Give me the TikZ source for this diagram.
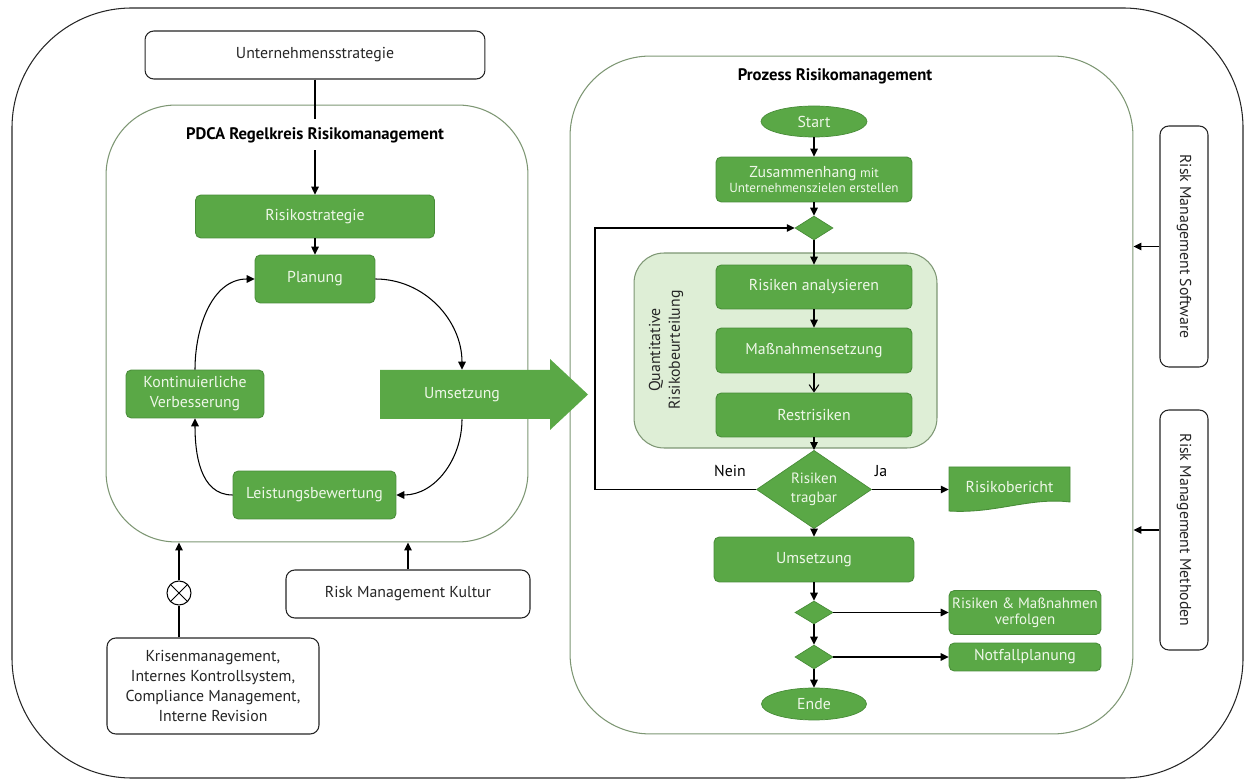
\documentclass[tikz,border=0pt]{standalone}
\usepackage{fontspec}
\setmainfont{PT Sans}
\usepackage{tikz}
\usetikzlibrary{shapes.geometric,arrows.meta}
\definecolor{riskgreen}{RGB}{90,168,70}
\definecolor{riskedge}{RGB}{72,140,56}
\definecolor{risktext}{RGB}{238,247,232}
\definecolor{riskframe}{RGB}{125,150,115}
\definecolor{riskpale}{RGB}{222,238,214}

\begin{document}
\begin{tikzpicture}[x=0.02cm, y=-0.02cm,
  >={Triangle[length=4.5pt,width=4.3pt]},
  font=\fontsize{9pt}{11.3pt}\selectfont,
  line/.style={line width=0.6pt, black},
  greenbox/.style={draw=riskedge, fill=riskgreen, text=risktext, rounded corners=3pt, line width=0.5pt, align=center, inner sep=1pt},
  whitebox/.style={draw=black!85, fill=white, rounded corners=5pt, line width=0.6pt, align=center, text=black!85},
  container/.style={draw=riskframe, line width=0.6pt},
  decision/.style={diamond, draw=riskedge, fill=riskgreen, text=risktext, inner sep=0pt, align=center},
  terminal/.style={ellipse, draw=riskedge, fill=riskgreen, text=risktext, inner sep=0pt}]

\useasboundingbox (0,0) rectangle (1245,780);

% outer frame
\draw[line width=0.6pt, black!85, rounded corners=2.4cm] (12,8) rectangle (1243,778);

% containers
\node[container, rounded corners=1.4cm, minimum width=8.44cm, minimum height=8.74cm] (pdca) at (317,323.5) {};
\node[container, rounded corners=1.6cm, minimum width=11.26cm, minimum height=13.56cm] (prozess) at (851.5,395) {};
\node[container, fill=riskpale, rounded corners=0.6cm, minimum width=6.06cm, minimum height=3.9cm] (quant) at (785.5,350.5) {};

% PDCA nodes
\node[whitebox, minimum width=6.8cm, minimum height=0.96cm] (unt) at (315,55) {Unternehmensstrategie};
\node[greenbox, minimum width=4.78cm, minimum height=0.86cm] (risikostr) at (315,216.5) {Risikostrategie};
\node[greenbox, minimum width=2.4cm, minimum height=0.96cm] (planung) at (315,279) {Planung};
\node[greenbox, minimum width=2.76cm, minimum height=0.96cm] (kont) at (195,394) {Kontinuierliche\\Verbesserung};
\node[greenbox, minimum width=3.26cm, minimum height=0.96cm] (leist) at (314.5,495) {Leistungsbewertung};

% Umsetzung arrow
\fill[riskgreen] (380,370) -- (550,370) -- (550,359) -- (588,394.5) -- (550,430) -- (550,419) -- (380,419) -- cycle;
\node[text=risktext, minimum width=3.24cm, minimum height=0.98cm] (umsetzungA) at (462,394.5) {Umsetzung};

% PDCA arrows
\draw[line,->] (unt.south) -- (unt.south |- risikostr.north);
\node[fill=white, font=\fontsize{9.5pt}{11pt}\selectfont\bfseries, minimum height=0.62cm, inner xsep=1pt] (pdcatitle) at (315,135) {PDCA Regelkreis Risikomanagement};
\draw[line,->] (risikostr) -- (planung);
\draw[line,->] (planung.east) to[out=0, in=90] (umsetzungA.north);
\draw[line,->] (umsetzungA.south) to[out=-90, in=0] (leist.east);
\draw[line,->] (leist.west) to[out=180, in=-90] (kont.south);
\draw[line,->] (kont.north) to[out=90, in=180] (planung.west);

% inputs below
\node[circle, draw, line width=0.6pt, minimum size=0.48cm, inner sep=0pt] (xor) at (179,593) {};
\draw[line] (xor.north east) -- (xor.south west) (xor.north west) -- (xor.south east);
\node[whitebox, minimum width=4.24cm, minimum height=1.92cm] (krisen) at (213,686) {Krisenmanagement,\\Internes Kontrollsystem,\\Compliance Management,\\Interne Revision};
\node[whitebox, minimum width=4.88cm, minimum height=0.96cm] (kultur) at (408,594) {Risk Management Kultur};
\draw[line] (krisen.north -| xor) -- (xor.south);
\draw[line,->] (xor.north) -- (xor.north |- pdca.south);
\draw[line,->] (kultur.north) -- (kultur.north |- pdca.south);

% process nodes
\node[font=\fontsize{9.5pt}{11pt}\selectfont\bfseries] (prozesstitle) at (835,76) {Prozess Risikomanagement};
\node[terminal, minimum width=2.12cm, minimum height=0.62cm] (start) at (814,121.5) {Start};
\node[greenbox, minimum width=3.92cm, minimum height=0.9cm, font=\fontsize{7.5pt}{8.6pt}\selectfont] (zus) at (814,179.5) {{\fontsize{9pt}{9pt}\selectfont Zusammenhang} mit\\Unternehmenszielen erstellen};
\node[decision, minimum width=0.76cm, minimum height=0.48cm] (d1) at (814,228) {};
\node[rotate=90, align=center, text=black!85] (quantlabel) at (666,350) {Quantitative\\Risikobeurteilung};
\node[greenbox, minimum width=3.92cm, minimum height=0.88cm] (ana) at (814,287) {Risiken analysieren};
\node[greenbox, minimum width=3.92cm, minimum height=0.9cm] (mass) at (814,350.5) {Maßnahmensetzung};
\node[greenbox, minimum width=3.92cm, minimum height=0.88cm] (rest) at (814,415) {Restrisiken};
\node[decision, minimum width=2.3cm, minimum height=1.26cm, font=\fontsize{8.5pt}{10.5pt}\selectfont] (dec) at (814,489.5) {Risiken\\tragbar};
\node (nein) at (730,471) {Nein};
\node (ja) at (881,471) {Ja};
\filldraw[fill=riskgreen, draw=riskedge, line width=0.5pt] (949,467) -- (1070,467) -- (1070,502) .. controls (1030,497) and (995,514) .. (949,511) -- cycle;
\node[text=risktext, minimum width=2.42cm, minimum height=0.86cm] (bericht) at (1009.5,487) {Risikobericht};
\node[greenbox, minimum width=4cm, minimum height=0.9cm] (ums) at (814,559.5) {Umsetzung};
\node[decision, minimum width=0.76cm, minimum height=0.46cm] (d2) at (814,612.5) {};
\node[decision, minimum width=0.76cm, minimum height=0.48cm] (d3) at (814,657) {};
\node[greenbox, minimum width=3.04cm, minimum height=0.88cm, font=\fontsize{8.5pt}{9pt}\selectfont] (verf) at (1025,612.5) {Risiken \& Maßnahmen\\verfolgen};
\node[greenbox, minimum width=3.04cm, minimum height=0.56cm] (notf) at (1025,657) {Notfallplanung};
\node[terminal, minimum width=2.1cm, minimum height=0.64cm] (ende) at (814,704) {Ende};

% process arrows
\draw[line,->] (start) -- (zus);
\draw[line,->] (zus) -- (d1);
\draw[line,->] (d1) -- (ana);
\draw[line,->] (ana) -- (mass);
\draw[line,-{Straight Barb[length=4pt,width=5.5pt]}] (mass) -- (rest);
\draw[line,->] (rest) -- (dec);
\coordinate (loopx) at (595,0);
\draw[line,->] (dec.west) -- (dec.west -| loopx) |- (d1.west);
\draw[line,->] (dec.east) -- (dec.east -| bericht.west);
\draw[line,->] (dec) -- (ums);
\draw[line,->] (ums) -- (d2);
\draw[line,->] (d2) -- (d3);
\draw[line,->] (d3) -- (ende);
\draw[line,->] (d2.east) -- (verf.west);
\draw[line,->] (d3.east) -- (notf.west);

% tools on the right
\node[whitebox, minimum width=0.96cm, minimum height=4.82cm, label={[rotate=-90, text=black!85]center:Risk Management Software}] (software) at (1184,246.5) {};
\node[whitebox, minimum width=0.96cm, minimum height=4.8cm, label={[rotate=-90, text=black!85]center:Risk Management Methoden}] (methoden) at (1184,530) {};
\draw[line,->] (software.west) -- (software.west -| prozess.east);
\draw[line,->] (methoden.west) -- (methoden.west -| prozess.east);

\end{tikzpicture}
\end{document}
